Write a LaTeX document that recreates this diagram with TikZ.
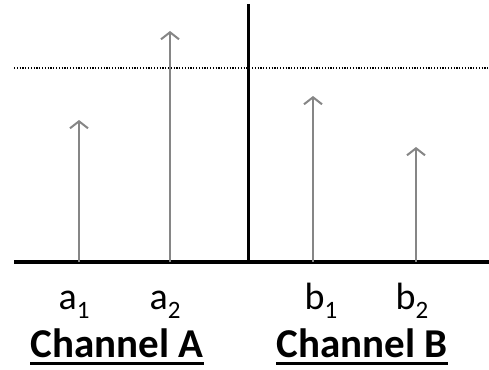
\documentclass[tikz,border=0pt]{standalone}
\usepackage{fontspec}
\setmainfont{Carlito}
\usetikzlibrary{arrows.meta}
\newcommand{\mysub}[1]{\raisebox{-9pt}{\fontsize{25}{25}\selectfont #1}}
\tikzset{
  spike/.style={draw=gray!95, line width=2pt, -{Straight Barb[length=7pt,width=18pt,line width=2pt]}},
  axis/.style={draw=black, line width=3.5pt},
  lbl/.style={inner sep=0pt, font=\fontsize{38}{40}\selectfont},
  chan/.style={inner sep=0pt, font=\bfseries\fontsize{41}{44}\selectfont},
}
\begin{document}
\begin{tikzpicture}[x=1pt,y=-1pt]
\useasboundingbox[fill=white] (0,0) rectangle (489,369);
% axes
\coordinate (bl) at (14,262);
\coordinate (br) at (489,262);
\coordinate (vt) at (248,4);
\coordinate (vb) at (248,262);
\coordinate (dl) at (14,68);
\coordinate (dr) at (489,68);
\draw[black, line width=1.5pt, dash pattern=on 1.2pt off 1.6pt] (dl) -- (dr);
\draw[axis] (bl) -- (br);
\draw[black, line width=3pt] (vt) -- (vb);
% spikes
\coordinate (a1b) at (79,262); \coordinate (a1t) at (79,120);
\coordinate (a2b) at (170,262); \coordinate (a2t) at (170,31);
\coordinate (b1b) at (313,262); \coordinate (b1t) at (313,96);
\coordinate (b2b) at (416,262); \coordinate (b2t) at (416,147);
\draw[spike] (a1b) -- (a1t);
\draw[spike] (a2b) -- (a2t);
\draw[spike] (b1b) -- (b1t);
\draw[spike] (b2b) -- (b2t);
% labels
\node[lbl, anchor=base] (la1) at (74,309) {a\mysub{1}};
\node[lbl, anchor=base] (la2) at (165,309) {a\mysub{2}};
\node[lbl, anchor=base] (lb1) at (321,309) {b\mysub{1}};
\node[lbl, anchor=base] (lb2) at (412,309) {b\mysub{2}};
\node[chan, anchor=base] (cha) at (117,357) {Channel A};
\node[chan, anchor=base] (chb) at (362,357) {Channel B};
\draw[line width=3pt] ([yshift=-6pt]cha.base west) -- ([yshift=-6pt]cha.base east);
\draw[line width=3pt] ([yshift=-6pt]chb.base west) -- ([yshift=-6pt]chb.base east);
\end{tikzpicture}
\end{document}
